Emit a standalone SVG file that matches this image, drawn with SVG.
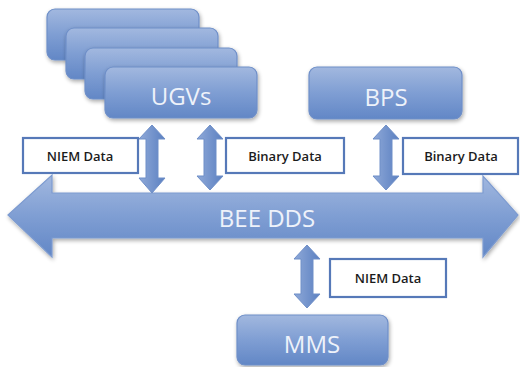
<svg xmlns="http://www.w3.org/2000/svg" width="520" height="367" viewBox="0 0 520 367">
  <defs>
    <linearGradient id="blueFill" x1="0" y1="0" x2="0" y2="1">
      <stop offset="0" stop-color="#a2b8df"/>
      <stop offset="0.5" stop-color="#7f9ed3"/>
      <stop offset="1" stop-color="#6287c6"/>
    </linearGradient>
    <linearGradient id="arrowFillV" x1="0" y1="0" x2="1" y2="0">
      <stop offset="0" stop-color="#8fa9d8"/>
      <stop offset="1" stop-color="#5b80c1"/>
    </linearGradient>
    <filter id="shadow" x="-10%" y="-10%" width="130%" height="140%">
      <feGaussianBlur in="SourceAlpha" stdDeviation="2"/>
      <feOffset dx="1" dy="2" result="b"/>
      <feComponentTransfer><feFuncA type="linear" slope="0.35"/></feComponentTransfer>
      <feMerge><feMergeNode/><feMergeNode in="SourceGraphic"/></feMerge>
    </filter>
  </defs>
  <style>
    .box { fill: url(#blueFill); stroke: #6f8fc8; stroke-width: 1.2; filter: url(#shadow); }
    .title { font-family: "Open Sans", "Liberation Sans", sans-serif; font-size: 24px; fill: #eef2fa; text-anchor: middle; }
    .lbl { fill: #ffffff; stroke: #5679b8; stroke-width: 2.2; }
    .lbltxt { font-family: "Open Sans", "Liberation Sans", sans-serif; font-size: 13px; font-weight: 600; fill: #1c1c1c; text-anchor: middle; }
    .varrow { fill: url(#arrowFillV); stroke: #6f8fc8; stroke-width: 1; }
    .bus { fill: url(#blueFill); stroke: #7d9bd0; stroke-width: 1.2; filter: url(#shadow); }
  </style>

  <!-- Data bus -->
  <g id="bee-dds">
    <path class="bus" d="M8,215 L52,175 L52,193 L483,193 L483,176 L518,215 L483,257 L483,238 L52,238 L52,257 Z"/>
    <text class="title" x="267" y="227">BEE DDS</text>
  </g>

  <!-- UGV stack -->
  <g id="ugvs">
    <rect class="box" x="47" y="9" width="152" height="51" rx="8"/>
    <rect class="box" x="66" y="28" width="152" height="51" rx="8"/>
    <rect class="box" x="85" y="48" width="152" height="51" rx="8"/>
    <rect class="box" x="105" y="67" width="152" height="51" rx="8"/>
    <text class="title" x="181" y="105">UGVs</text>
  </g>

  <g id="bps">
    <rect class="box" x="309" y="67" width="153" height="52" rx="8"/>
    <text class="title" x="386" y="106">BPS</text>
  </g>

  <g id="mms">
    <rect class="box" x="237" y="315" width="151" height="50" rx="8"/>
    <text class="title" x="312" y="353">MMS</text>
  </g>

  <!-- Connectors: double-headed vertical arrows -->
  <g id="connectors">
    <path class="varrow" d="M152,125 L165,139 L158,139 L158,178 L165,178 L152,193 L139,178 L146,178 L146,139 L139,139 Z"/>
    <path class="varrow" d="M210,125 L223,139 L216,139 L216,176 L223,176 L210,190 L197,176 L204,176 L204,139 L197,139 Z"/>
    <path class="varrow" d="M386,125 L399,139 L392,139 L392,176 L399,176 L386,190 L373,176 L380,176 L380,139 L373,139 Z"/>
    <path class="varrow" d="M307,245 L320,259 L313,259 L313,294 L320,294 L307,308 L294,294 L301,294 L301,259 L294,259 Z"/>
  </g>

  <!-- Data labels -->
  <g id="label-niem-ugv">
    <rect class="lbl" x="23" y="138" width="115" height="35"/>
    <text class="lbltxt" x="80" y="161">NIEM Data</text>
  </g>
  <g id="label-binary-ugv">
    <rect class="lbl" x="226" y="138" width="118" height="35"/>
    <text class="lbltxt" x="285" y="161">Binary Data</text>
  </g>
  <g id="label-binary-bps">
    <rect class="lbl" x="403" y="138" width="115" height="36"/>
    <text class="lbltxt" x="461" y="161">Binary Data</text>
  </g>
  <g id="label-niem-mms">
    <rect class="lbl" x="330" y="259" width="116" height="38"/>
    <text class="lbltxt" x="388" y="283">NIEM Data</text>
  </g>
</svg>
